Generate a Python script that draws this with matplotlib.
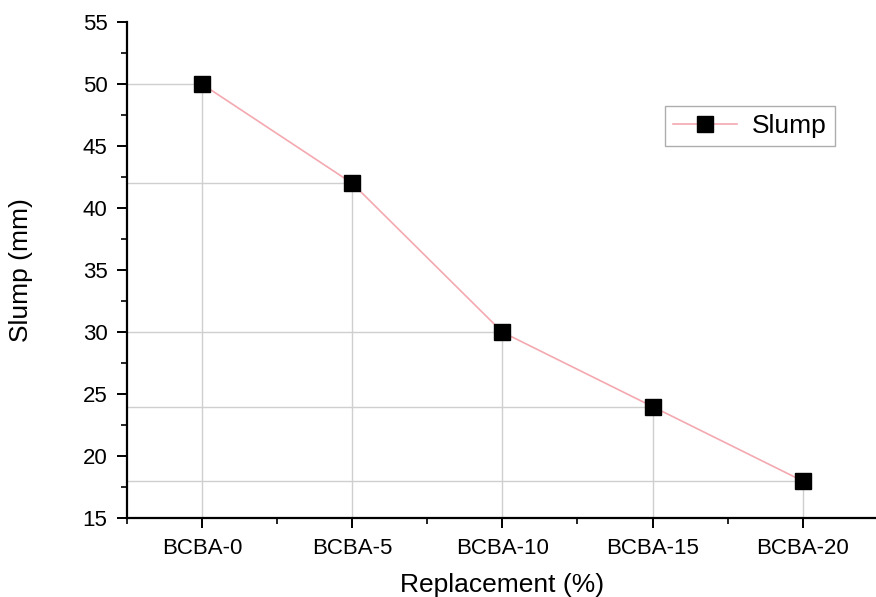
import numpy as np
import matplotlib.pyplot as plt
from matplotlib.ticker import MultipleLocator

plt.rcParams['font.family'] = ['Liberation Sans', 'DejaVu Sans']

mixes = ['BCBA-0', 'BCBA-5', 'BCBA-10', 'BCBA-15', 'BCBA-20']
slump = [50, 42, 30, 24, 18]

fig = plt.figure(figsize=(8.76, 5.97), dpi=100)
ax = fig.add_axes([0.145, 0.132, 0.857, 0.831])

x = np.arange(len(mixes))

# drop lines from each point to both axes
for xi, yi in zip(x, slump):
    ax.plot([-0.5, xi], [yi, yi], color='#cfcfcf', lw=1, zorder=1)
    ax.plot([xi, xi], [15, yi], color='#cfcfcf', lw=1, zorder=1)

ax.plot(x, slump, color='#f4a8b0', lw=1.2, marker='s', ms=11,
        mfc='black', mec='black', label='Slump', zorder=3)

ax.set_xlim(-0.5, 4.5)
ax.set_ylim(15, 55)
ax.set_xticks(x)
ax.set_xticklabels(mixes)
ax.xaxis.set_minor_locator(MultipleLocator(0.5))
ax.yaxis.set_major_locator(MultipleLocator(5))
ax.yaxis.set_minor_locator(MultipleLocator(2.5))

for s in ['top', 'right']:
    ax.spines[s].set_visible(False)
for s in ['left', 'bottom']:
    ax.spines[s].set_linewidth(1.6)

ax.tick_params(which='major', direction='out', length=7, width=1.4, labelsize=16, pad=7)
ax.tick_params(which='minor', direction='out', length=4, width=1.2)

ax.set_xlabel('Replacement (%)', fontsize=19, labelpad=10)
ax.set_ylabel('Slump (mm)', fontsize=19, labelpad=36)

leg = ax.legend(loc='center', bbox_to_anchor=(0.83, 0.79), fontsize=19,
                frameon=True, fancybox=False, edgecolor='#999999',
                handlelength=2.4, borderpad=0.3, handletextpad=0.6)
leg.get_frame().set_linewidth(1)

fig.savefig('out.png', dpi=100)
